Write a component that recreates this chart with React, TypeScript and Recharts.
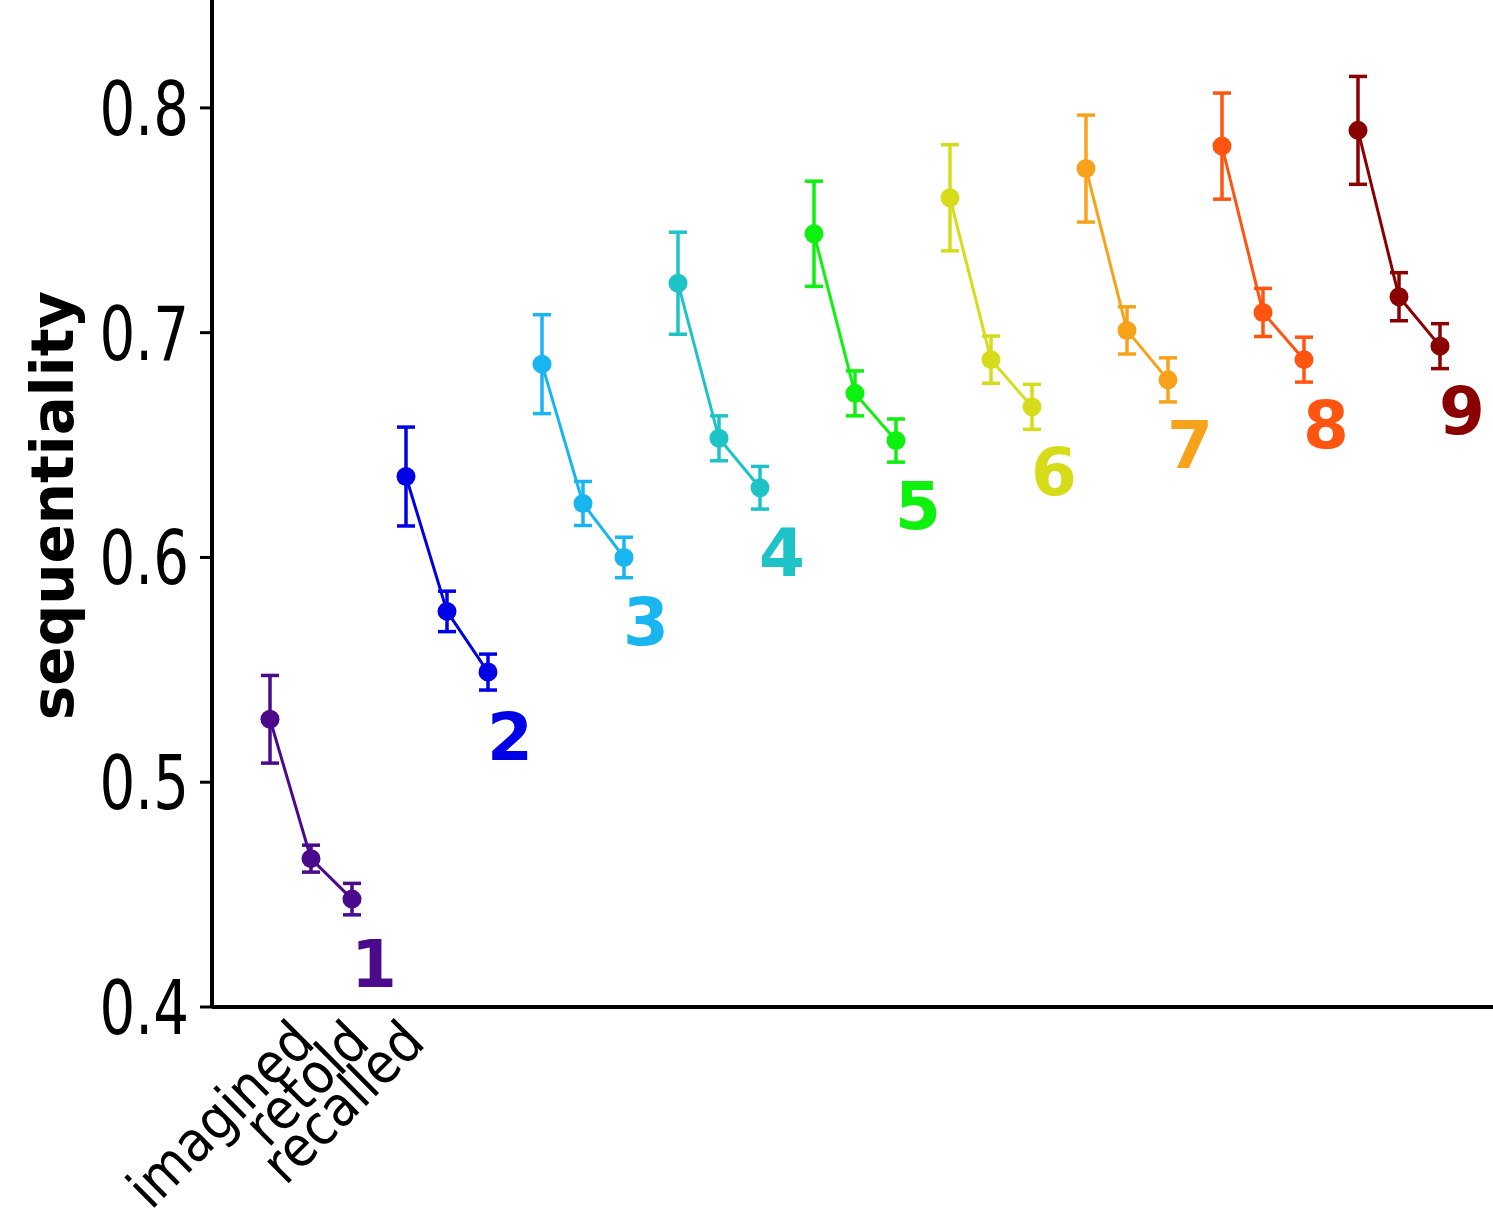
import { ScatterChart, Scatter, XAxis, YAxis, ErrorBar } from "recharts";

// three story conditions, nine groups
const conditions = ["imagined", "retold", "recalled"];
const groupLabels = ["1", "2", "3", "4", "5", "6", "7", "8", "9"];
const groupColors = ["#4b0a8c", "#0000e6", "#19b5f0", "#1ec3c8", "#0ef00e", "#d6dc1a", "#f7a21b", "#ff5511", "#8b0000"];

const imaginedMean = [0.528, 0.636, 0.686, 0.722, 0.744, 0.760, 0.773, 0.783, 0.790];
const retoldMean = [0.466, 0.576, 0.624, 0.653, 0.673, 0.688, 0.701, 0.709, 0.716];
const recalledMean = [0.448, 0.549, 0.600, 0.631, 0.652, 0.667, 0.679, 0.688, 0.694];

const imaginedErr = [0.0195, 0.022, 0.022, 0.0227, 0.0234, 0.0236, 0.0238, 0.0236, 0.024];
const retoldErr = [0.006, 0.009, 0.0098, 0.010, 0.010, 0.0105, 0.0105, 0.0107, 0.0107];
const recalledErr = [0.007, 0.008, 0.009, 0.0095, 0.0096, 0.010, 0.0098, 0.010, 0.010];

const yTicks = [0.4, 0.5, 0.6, 0.7, 0.8];

// spacing between groups, in units of the within-group step
const GROUP_STEP = 136 / 41;

const groups = groupLabels.map((label, g) => {
  const means = [imaginedMean[g], retoldMean[g], recalledMean[g]];
  const errs = [imaginedErr[g], retoldErr[g], recalledErr[g]];
  return {
    label,
    color: groupColors[g],
    data: conditions.map((c, i) => ({
      x: g * GROUP_STEP + i,
      y: means[i],
      err: errs[i],
      cond: c,
      tag: i === conditions.length - 1 ? label : null,
    })),
  };
});

function YTick({ x, y, payload }: any) {
  return (
    <text
      transform={`translate(${x - 9},${y + 27}) scale(0.76,1)`}
      textAnchor="end"
      fontFamily="DejaVu Sans"
      fontSize={74}
      fill="#000"
    >
      {payload.value.toFixed(1)}
    </text>
  );
}

function XTick({ x, y, payload, index }: any) {
  const ax = x + 47 + 14 * index;
  const ay = y + 30;
  return (
    <text
      transform={`translate(${ax},${ay}) rotate(-45) scale(0.9,1)`}
      textAnchor="end"
      fontFamily="DejaVu Sans"
      fontSize={56}
      fill="#000"
    >
      {conditions[payload.value]}
    </text>
  );
}

function makeDot(color: string) {
  return (props: any) => {
    const { cx, cy, payload } = props;
    return (
      <g>
        <circle cx={cx} cy={cy} r={9.5} fill={color} />
        {payload.tag && (
          <text
            x={cx + 22}
            y={cy + 88}
            textAnchor="middle"
            fontFamily="DejaVu Sans"
            fontWeight="bold"
            fontSize={66}
            fill={color}
          >
            {payload.tag}
          </text>
        )}
      </g>
    );
  };
}

export default function App() {
  return (
    <div style={{ position: "absolute", left: 0, top: 0, background: "#fff" }}>
      <ScatterChart width={1493} height={1226} margin={{ top: 0, right: 0, left: 0, bottom: 0 }}>
        <XAxis
          type="number"
          dataKey="x"
          domain={[-58 / 41, 1223 / 41]}
          allowDataOverflow
          ticks={[0, 1, 2]}
          tick={<XTick />}
          tickLine={false}
          height={219}
          axisLine={{ stroke: "#000", strokeWidth: 4 }}
        />
        <YAxis
          type="number"
          dataKey="y"
          domain={[0.4, 0.848]}
          allowDataOverflow
          ticks={yTicks}
          tick={<YTick />}
          width={212}
          tickSize={12}
          tickLine={{ stroke: "#000", strokeWidth: 3 }}
          axisLine={{ stroke: "#000", strokeWidth: 4 }}
          label={{
            content: ({ viewBox }: any) => (
              <text
                x={viewBox.x + 73}
                y={viewBox.y + viewBox.height / 2 + 2}
                transform={`rotate(-90, ${viewBox.x + 73}, ${viewBox.y + viewBox.height / 2 + 2})`}
                textAnchor="middle"
                fontFamily="DejaVu Sans"
                fontWeight="bold"
                fontSize={58}
                fill="#000"
              >
                sequentiality
              </text>
            ),
          }}
        />
        {groups.map((grp) => (
          <Scatter
            key={grp.label}
            data={grp.data}
            line={{ stroke: grp.color, strokeWidth: 3 }}
            shape={makeDot(grp.color)}
            isAnimationActive={false}
          >
            <ErrorBar dataKey="err" direction="y" width={9} strokeWidth={3.5} stroke={grp.color} />
          </Scatter>
        ))}
      </ScatterChart>
    </div>
  );
}
